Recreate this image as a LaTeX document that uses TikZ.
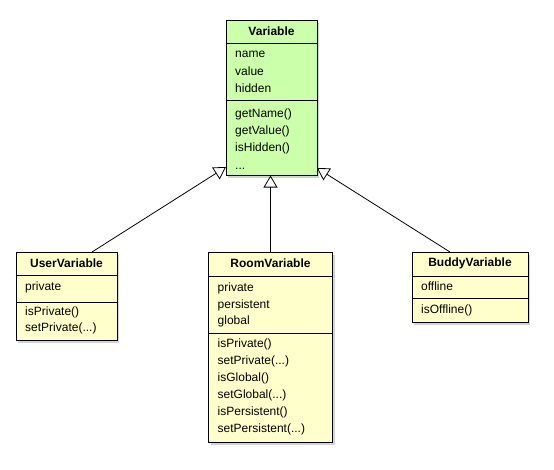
\documentclass[tikz,border=0pt]{standalone}
\usepackage{fontspec}
\setmainfont{Liberation Sans}
\usetikzlibrary{arrows.meta,shadows,calc}
\definecolor{vargreen}{RGB}{204,255,170}
\definecolor{subyellow}{RGB}{255,255,204}
\begin{document}
\begin{tikzpicture}[x=1pt,y=-1pt,
  classbox/.style={draw=black, line width=1pt, inner sep=0pt,
    drop shadow={shadow xshift=2pt, shadow yshift=-3pt, opacity=0.35}},
  ctitle/.style={font=\fontsize{12}{14}\selectfont\bfseries, inner sep=0pt},
  member/.style={font=\fontsize{12}{14}\selectfont, anchor=west, inner sep=0pt,
    text height=8.6pt, text depth=2.5pt},
  sepline/.style={line width=1pt},
  inherit/.style={line width=0.8pt,
    -{Triangle[open, length=12pt, width=14pt, line width=0.8pt]}}
]
\useasboundingbox (0,0) rectangle (554,469);

% ---------- Variable ----------
\node[classbox, fill=vargreen, minimum width=91pt, minimum height=155pt] (var) at (271.5,97.5) {};
\node[ctitle] (varT) at (271.5,31) {Variable};
\draw[sepline] (var.west |- 0,43) -- (var.east |- 0,43);
\draw[sepline] (var.west |- 0,100.5) -- (var.east |- 0,100.5);
\node[member] (var1) at (235,54.5) {name};
\node[member] (var2) at (235,72) {value};
\node[member] (var3) at (235,89.3) {hidden};
\node[member] (var4) at (235,114.3) {getName()};
\node[member] (var5) at (235,131.6) {getValue()};
\node[member] (var6) at (235,148.9) {isHidden()};
\node[member] (var7) at (235,166) {...};

% ---------- UserVariable ----------
\node[classbox, fill=subyellow, minimum width=101pt, minimum height=88pt] (user) at (66.5,296) {};
\node[ctitle] (userT) at (66.5,263.5) {UserVariable};
\draw[sepline] (user.west |- 0,275) -- (user.east |- 0,275);
\draw[sepline] (user.west |- 0,302) -- (user.east |- 0,302);
\node[member] (user1) at (25,287.5) {private};
\node[member] (user2) at (25,312) {isPrivate()};
\node[member] (user3) at (25,328.5) {setPrivate(...)};

% ---------- RoomVariable ----------
\node[classbox, fill=subyellow, minimum width=124pt, minimum height=190pt] (room) at (270.5,347) {};
\node[ctitle] (roomT) at (270.5,263) {RoomVariable};
\draw[sepline] (room.west |- 0,276) -- (room.east |- 0,276);
\draw[sepline] (room.west |- 0,333) -- (room.east |- 0,333);
\node[member] (room1) at (217.5,288) {private};
\node[member] (room2) at (217.5,305) {persistent};
\node[member] (room3) at (217.5,321.5) {global};
\node[member] (room4) at (217.5,344.5) {isPrivate()};
\node[member] (room5) at (217.5,361.5) {setPrivate(...)};
\node[member] (room6) at (217.5,378.5) {isGlobal()};
\node[member] (room7) at (217.5,395.5) {setGlobal(...)};
\node[member] (room8) at (217.5,412.5) {isPersistent()};
\node[member] (room9) at (217.5,429.5) {setPersistent(...)};

% ---------- BuddyVariable ----------
\node[classbox, fill=subyellow, minimum width=116pt, minimum height=70pt] (buddy) at (470,287) {};
\node[ctitle] (buddyT) at (470,263) {BuddyVariable};
\draw[sepline] (buddy.west |- 0,276) -- (buddy.east |- 0,276);
\draw[sepline] (buddy.west |- 0,298.5) -- (buddy.east |- 0,298.5);
\node[member] (buddy1) at (421,287.5) {offline};
\node[member] (buddy2) at (421,310) {isOffline()};

% ---------- inheritance ----------
\coordinate (uStart) at (92,252);
\coordinate (vLeft) at (226,167);
\coordinate (bStart) at (450,252);
\coordinate (vRight) at (317,168);
\coordinate (vBottom) at (room.north |- var.south);
\draw[inherit] (uStart) -- (vLeft);
\draw[inherit] (room.north) -- (vBottom);
\draw[inherit] (bStart) -- (vRight);
\end{tikzpicture}
\end{document}
